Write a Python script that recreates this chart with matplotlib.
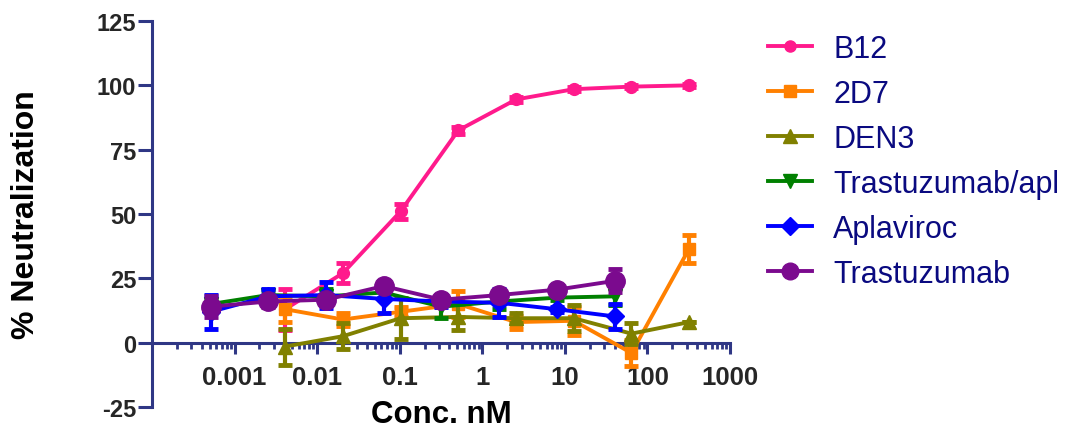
import matplotlib
matplotlib.use("Agg")
import matplotlib.pyplot as plt
from matplotlib.lines import Line2D
from matplotlib.ticker import FixedLocator, FixedFormatter, LogLocator, NullFormatter

# ---------------- data ----------------
conc_a = [0.004096, 0.02048, 0.1024, 0.512, 2.56, 12.8, 64, 320]
conc_b = [0.000512, 0.00256, 0.0128, 0.064, 0.32, 1.6, 8, 40]

b12 = [13, 27, 51, 82.5, 94.5, 98.5, 99.5, 100]
b12_err = [8, 4, 3, 1.5, 1, 0.8, 0.5, 0.5]

d2d7 = [13, 9, 12, 15, 8, 8.5, -4, 36.5]
d2d7_err = [5, 2.5, 2, 5, 2.5, 5.5, 5, 5.5]

den3 = [-1.5, 2.5, 9.5, 10, 9.5, 9.5, 3.5, 8]
den3_err = [7, 5, 8, 5, 2, 5, 4, 0]

tapl = [15, 18.5, 18, 19.5, 14, 16, 17.5, 18]
tapl_err = [2, 2, 3, 2, 4.5, 3, 1, 3.5]

apl = [12, 18, 18.5, 17, 16, 15.5, 13, 10.2]
apl_err = [6.5, 3, 5, 5.5, 2, 5.5, 1, 5]

tras = [14, 16, 16.7, 22, 16.7, 18.5, 20.6, 24]
tras_err = [4, 2, 2, 2, 1.5, 1.5, 1.5, 4.5]

series_names = ["B12", "2D7", "DEN3", "Trastuzumab/apl", "Aplaviroc", "Trastuzumab"]

x_ticks = [0.001, 0.01, 0.1, 1, 10, 100, 1000]
x_ticklabels = ["0.001", "0.01", "0.1", "1", "10", "100", "1000"]
y_ticks = [-25, 0, 25, 50, 75, 100, 125]
y_ticklabels = ["-25", "0", "25", "50", "75", "100", "125"]

# ---------------- style ----------------
plt.rcParams['font.family'] = ['Liberation Sans', 'DejaVu Sans']
AX_COLOR = '#2f3785'
TICK_TXT = '#262626'

fig = plt.figure(figsize=(10.68, 4.31), dpi=100)
ax = fig.add_axes([152/1068, 1-408/431, (730-152)/1068, (408-22)/431])

styles = [
    (conc_a, b12, b12_err, '#ff1a8c', 'o', 8.5, 8),
    (conc_a, d2d7, d2d7_err, '#ff8000', 's', 8.5, 8.5),
    (conc_a, den3, den3_err, '#808000', '^', 10, 10),
    (conc_b, tapl, tapl_err, '#008000', 'v', 10, 10),
    (conc_b, apl, apl_err, '#0000ff', 'D', 9, 9),
    (conc_b, tras, tras_err, '#7b0a8e', 'o', 14, 12),
]

handles = []
for i, ((x, y, e, c, m, ms, lms), name) in enumerate(zip(styles, series_names)):
    ax.errorbar(x, y, yerr=e, color=c, marker=m, ms=ms, mec=c, mfc=c,
                lw=2.8, elinewidth=3, capsize=5, capthick=3.5,
                zorder=3 + i, clip_on=False)
    handles.append(Line2D([], [], color=c, marker=m, ms=lms, mec=c, mfc=c, lw=2.8))

ax.set_xscale('log')
ax.set_xlim(1e-4, 1e3)
ax.set_ylim(-25, 125)

for s in ['top', 'right']:
    ax.spines[s].set_visible(False)
ax.spines['left'].set_color(AX_COLOR)
ax.spines['left'].set_linewidth(2.2)
ax.spines['bottom'].set_color(AX_COLOR)
ax.spines['bottom'].set_linewidth(2.2)
ax.spines['bottom'].set_position(('data', 0))

ax.xaxis.set_major_locator(FixedLocator(x_ticks))
ax.xaxis.set_major_formatter(FixedFormatter(x_ticklabels))
ax.xaxis.set_minor_locator(LogLocator(base=10, subs=[2, 3, 4, 5, 6, 7, 8, 9], numticks=20))
ax.xaxis.set_minor_formatter(NullFormatter())
ax.yaxis.set_major_locator(FixedLocator(y_ticks))
ax.yaxis.set_major_formatter(FixedFormatter(y_ticklabels))

ax.tick_params(axis='x', which='major', direction='out', length=8, width=2.2,
               color=AX_COLOR, pad=8, labelsize=18.5, labelcolor=TICK_TXT)
ax.tick_params(axis='x', which='minor', direction='out', length=4.5, width=2.0,
               color=AX_COLOR)
ax.tick_params(axis='y', which='major', direction='out', length=10, width=2.2,
               color=AX_COLOR, pad=1.5, labelsize=17, labelcolor=TICK_TXT)
for lab in ax.get_xticklabels() + ax.get_yticklabels():
    lab.set_fontweight('bold')

fig.text(441/1068, 1/431, "Conc. nM", ha='center', va='bottom',
         fontsize=22.5, fontweight='bold', color='black')
fig.text(11/1068, 1-215/431, "% Neutralization", ha='left', va='center',
         rotation=90, fontsize=23, fontweight='bold', color='black')

leg = ax.legend(handles=handles, labels=series_names, loc='upper left',
                bbox_to_anchor=(768/1068, 1-35/431), bbox_transform=fig.transFigure,
                frameon=False, fontsize=22, borderpad=0, borderaxespad=0,
                handlelength=1.45, handletextpad=0.68, labelspacing=0.49)
for t in leg.get_texts():
    t.set_color('#0a0a80')

fig.savefig("out.png", dpi=100)
